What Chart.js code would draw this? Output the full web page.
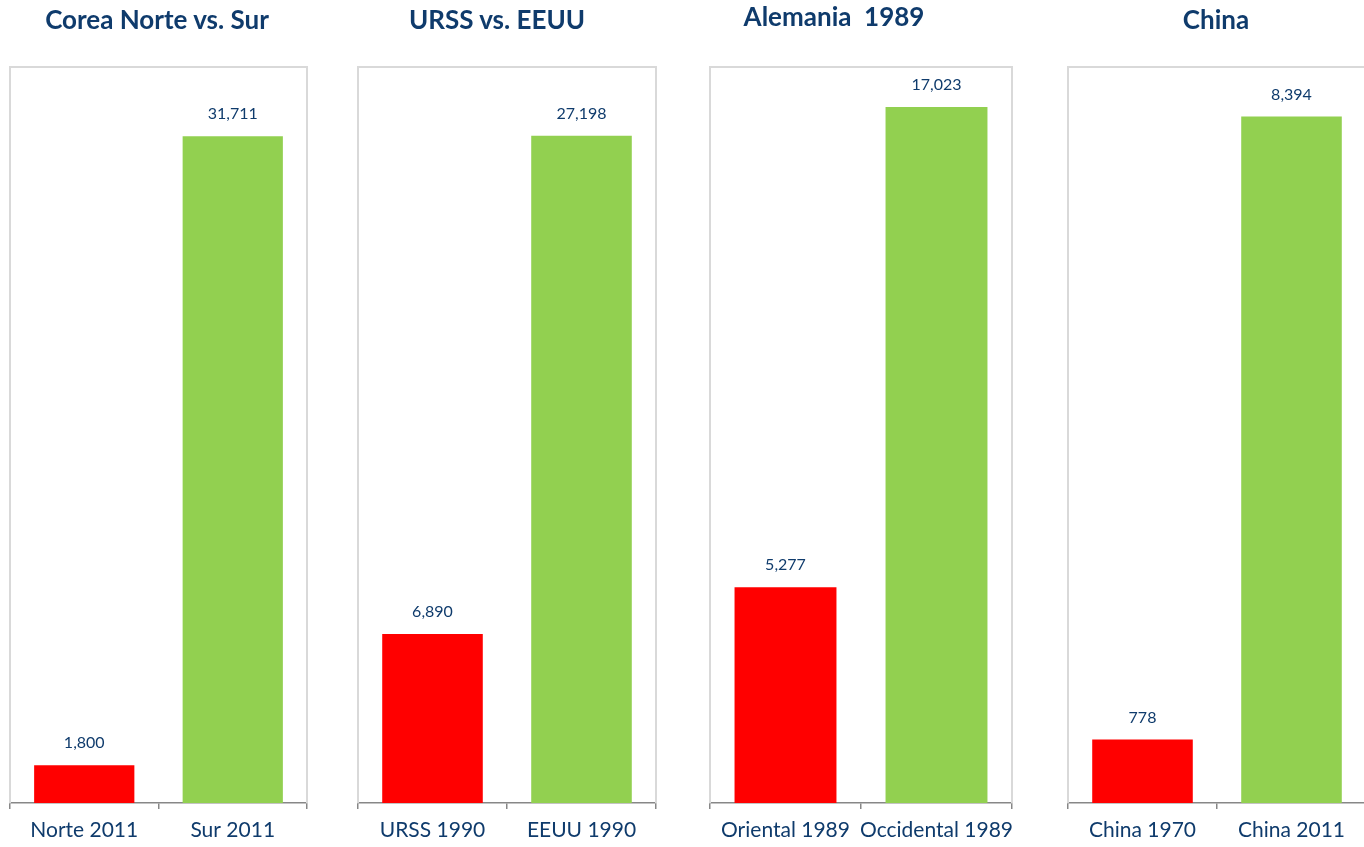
<!DOCTYPE html>
<html>
<head>
<meta charset="utf-8">
<script src="https://cdn.jsdelivr.net/npm/chart.js@4/dist/chart.umd.min.js"></script>
<style>
  html, body { margin: 0; padding: 0; background: #fff; overflow: hidden; }
  body { width: 1364px; height: 847px; position: relative; }
  .panel { position: absolute; top: 0; height: 847px; }
  .panel-title {
    position: absolute; white-space: pre; transform: translate(-50%, -50%);
    font-family: Lato, "Noto Sans", sans-serif; font-weight: bold; font-size: 26px; color: #0F3B6C;
  }
</style>
</head>
<body>
<script>
var panelTitles = ['Corea Norte vs. Sur', 'URSS vs. EEUU', 'Alemania  1989', 'China'];
var categories = [
    ['Norte 2011', 'Sur 2011'],
    ['URSS 1990', 'EEUU 1990'],
    ['Oriental 1989', 'Occidental 1989'],
    ['China 1970', 'China 2011']
];
var redValues = [1800, 6890, 5277, 778];
var greenValues = [31711, 27198, 17023, 8394];
var axisMax = [35000, 30000, 18000, 9000];

// page layout (box edges and title centres)
var boxLeft = [10, 358, 710, 1068];
var boxWidth = [297, 298, 302, 298];
var titlePos = [[157, 19], [497, 19], [834, 16], [1216, 19]];

var TEXT = '#0F3B6C';
var FONT = 'Lato, "Noto Sans", sans-serif';
var PAD = 2;

var boxPlugin = {
    id: 'box',
    beforeDatasetsDraw: function (chart) {
        var a = chart.chartArea, ctx = chart.ctx;
        ctx.save();
        ctx.strokeStyle = '#D9D9D9';
        ctx.lineWidth = 2;
        ctx.beginPath();
        ctx.moveTo(a.left, a.bottom);
        ctx.lineTo(a.left, a.top);
        ctx.lineTo(a.right, a.top);
        ctx.lineTo(a.right, a.bottom);
        ctx.stroke();
        ctx.restore();
    }
};

var valueLabels = {
    id: 'valueLabels',
    afterDatasetsDraw: function (chart) {
        var ctx = chart.ctx;
        var ds = chart.data.datasets[0];
        var meta = chart.getDatasetMeta(0);
        ctx.save();
        ctx.font = '16px ' + FONT;
        ctx.fillStyle = TEXT;
        ctx.textAlign = 'center';
        ctx.textBaseline = 'middle';
        meta.data.forEach(function (bar, i) {
            ctx.fillText(ds.data[i].toLocaleString('en-US'), bar.x, bar.y - 22);
        });
        ctx.restore();
    }
};

function buildPanel(i) {
    var wrap = document.createElement('div');
    wrap.className = 'panel';
    wrap.style.left = (boxLeft[i] - PAD) + 'px';
    wrap.style.width = (boxWidth[i] + PAD * 2) + 'px';
    var canvas = document.createElement('canvas');
    wrap.appendChild(canvas);
    document.body.appendChild(wrap);

    var title = document.createElement('div');
    title.className = 'panel-title';
    title.textContent = panelTitles[i];
    title.style.left = titlePos[i][0] + 'px';
    title.style.top = titlePos[i][1] + 'px';
    document.body.appendChild(title);

    new Chart(canvas, {
        type: 'bar',
        data: {
            labels: categories[i],
            datasets: [{
                data: [redValues[i], greenValues[i]],
                backgroundColor: ['#FF0000', '#92D050'],
                borderWidth: 0,
                categoryPercentage: 1,
                barPercentage: 0.675
            }]
        },
        options: {
            responsive: true,
            maintainAspectRatio: false,
            animation: false,
            layout: { padding: { top: 67, left: PAD, right: PAD, bottom: 0 } },
            plugins: { legend: { display: false }, tooltip: { enabled: false } },
            scales: {
                x: {
                    offset: true,
                    border: { display: true, color: '#878787', width: 1.5 },
                    grid: {
                        offset: true, drawOnChartArea: false, drawTicks: true,
                        tickLength: 6, color: '#878787', lineWidth: 1.5
                    },
                    ticks: {
                        color: TEXT, padding: 9, maxRotation: 0, autoSkip: false,
                        font: { family: FONT, size: 21 }
                    },
                    afterFit: function (scale) {
                        // keep the plot area fixed to the box even when labels are wide
                        scale.height = 44;
                        scale.paddingLeft = 0;
                        scale.paddingRight = 0;
                    }
                },
                y: { display: false, min: 0, max: axisMax[i] }
            }
        },
        plugins: [boxPlugin, valueLabels]
    });
}

document.addEventListener('DOMContentLoaded', function () {
    for (var i = 0; i < panelTitles.length; i++) buildPanel(i);
});
</script>
</body>
</html>
